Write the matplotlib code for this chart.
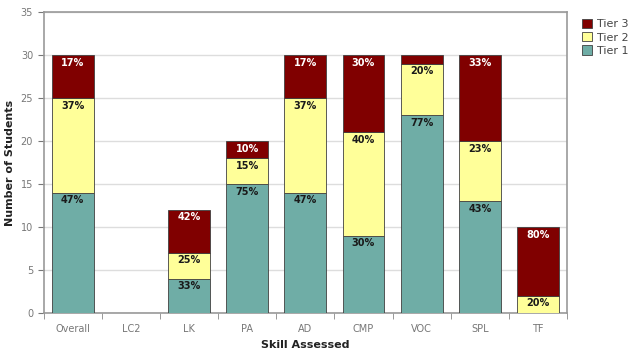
import numpy as np
import matplotlib.pyplot as plt

skills = ["Overall", "LC2", "LK", "PA", "AD", "CMP", "VOC", "SPL", "TF"]
tier1 = [14, 0, 4, 15, 14, 9, 23, 13, 0]
tier2 = [11, 0, 3, 3, 11, 12, 6, 7, 2]
tier3 = [5, 0, 5, 2, 5, 9, 1, 10, 8]
pct1 = ["47%", "", "33%", "75%", "47%", "30%", "77%", "43%", ""]
pct2 = ["37%", "", "25%", "15%", "37%", "40%", "20%", "23%", "20%"]
pct3 = ["17%", "", "42%", "10%", "17%", "30%", "", "33%", "80%"]

c1, c2, c3 = "#6fada6", "#ffff99", "#800000"

fig = plt.figure(figsize=(6.4, 3.64), dpi=100)
ax = fig.add_axes([0.068, 0.14, 0.818, 0.827])
x = np.arange(len(skills))
t1 = np.array(tier1)
t2 = np.array(tier2)
t3 = np.array(tier3)
w = 0.72
kw = dict(width=w, edgecolor="#404040", linewidth=0.6, zorder=3)
b1 = ax.bar(x, t1, color=c1, label="Tier 1", **kw)
b2 = ax.bar(x, t2, bottom=t1, color=c2, label="Tier 2", **kw)
b3 = ax.bar(x, t3, bottom=t1 + t2, color=c3, label="Tier 3", **kw)

for i in range(len(skills)):
    if pct1[i]:
        ax.text(x[i], t1[i] - 0.3, pct1[i], ha="center", va="top", fontsize=7,
                fontweight="bold", color="#1a1a1a", zorder=4)
    if pct2[i]:
        ax.text(x[i], t1[i] + t2[i] - 0.3, pct2[i], ha="center", va="top", fontsize=7,
                fontweight="bold", color="#1a1a1a", zorder=4)
    if pct3[i]:
        ax.text(x[i], t1[i] + t2[i] + t3[i] - 0.3, pct3[i], ha="center", va="top", fontsize=7,
                fontweight="bold", color="white", zorder=4)

ax.set_xlim(-0.5, len(skills) - 0.5)
ax.set_ylim(0, 35)
ax.set_yticks(range(0, 36, 5))
ax.set_xticks(x)
ax.set_xticklabels(skills)
ax.set_xticks(np.arange(-0.5, len(skills), 1), minor=True)
ax.tick_params(axis="x", which="major", length=0, labelsize=7, colors="#777777", pad=8)
ax.tick_params(axis="x", which="minor", length=4, color="#888888")
ax.tick_params(axis="y", labelsize=7, colors="#777777", length=4)
ax.yaxis.grid(True, color="#dddddd", linewidth=1, zorder=0)
for s in ax.spines.values():
    s.set_color("#999999")
    s.set_linewidth(1.2)

ax.set_xlabel("Skill Assessed", fontsize=8, fontweight="bold", color="#222222")
ax.set_ylabel("Number of Students", fontsize=8, fontweight="bold", color="#222222")

handles = [b3, b2, b1]
ax.legend(handles, ["Tier 3", "Tier 2", "Tier 1"], loc="upper left", bbox_to_anchor=(1.01, 1.01),
          frameon=False, fontsize=8, handlelength=0.9, handleheight=0.9, handletextpad=0.4,
          labelspacing=0.25, labelcolor="#444444")

fig.savefig("out.png", dpi=100)
